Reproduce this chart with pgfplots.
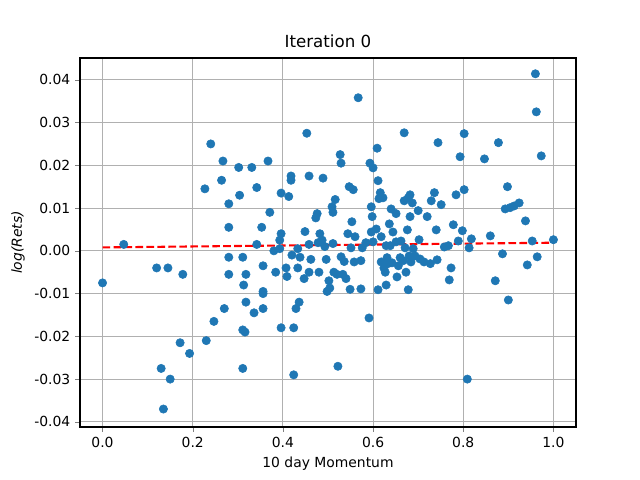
\documentclass[border=0pt]{standalone}
\usepackage{pgfplots}
\pgfplotsset{compat=1.18}
\usepackage{fontspec}
\setmainfont{DejaVu Sans}
\definecolor{mplblue}{HTML}{1F77B4}
\begin{document}
\begin{tikzpicture}[x=0.72pt,y=0.72pt]
\useasboundingbox (0,0) rectangle (640,480);
\begin{axis}[at={(80*0.72pt,53*0.72pt)},anchor=south west,
scale only axis,width=357.1pt,height=265.7pt,
xmin=-0.05,xmax=1.05,ymin=-0.0412,ymax=0.0451,
xtick={0,0.2,0.4,0.6,0.8,1.0},ytick={-0.04,-0.03,-0.02,-0.01,0,0.01,0.02,0.03,0.04},
scaled y ticks=false,
xticklabel style={/pgf/number format/.cd,fixed,fixed zerofill,precision=1,assume math mode=true},
yticklabel style={/pgf/number format/.cd,fixed,fixed zerofill,precision=2,assume math mode=true},
tick label style={font=\fontsize{10}{12}\selectfont},
label style={font=\fontsize{10}{12}\selectfont},
grid=major,grid style={color=black!31,line width=0.8pt},
tick align=outside,tick pos=left,major tick length=3.5pt,
title={Iteration 0},title style={font=\fontsize{12}{14}\selectfont,yshift=-2pt},
xlabel={10 day Momentum},ylabel={\textit{log(Rets)}},
axis line style={line width=0.8pt}]
\addplot[only marks,mark=*,mark size=3pt,mark options={draw=mplblue,fill=mplblue}] table {
x y
0 -0.0075
0.047 0.0015
0.12 -0.004
0.145 -0.004
0.178 -0.0055
0.13 -0.0275
0.135 -0.037
0.15 -0.030
0.172 -0.0215
0.193 -0.024
0.227 0.0145
0.24 0.025
0.23 -0.021
0.247 -0.0165
0.264 0.0165
0.267 0.021
0.27 -0.0135
0.28 0.011
0.28 0.0055
0.28 -0.0015
0.28 -0.0055
0.302 0.0195
0.304 0.013
0.311 -0.0015
0.313 -0.008
0.311 -0.0185
0.316 -0.019
0.311 -0.0275
0.318 -0.0055
0.318 -0.012
0.331 0.0195
0.336 -0.0145
0.342 0.0148
0.342 0.0015
0.353 0.0055
0.356 -0.0035
0.356 -0.0095
0.356 -0.010
0.356 -0.0135
0.367 0.021
0.371 0.009
0.38 0
0.384 -0.005
0.393 0.0025
0.393 0.0005
0.396 0.004
0.396 0.0135
0.396 -0.018
0.407 -0.004
0.409 -0.006
0.413 0.0127
0.418 0.0175
0.418 0.0165
0.42 -0.001
0.424 -0.018
0.424 -0.029
0.429 -0.0135
0.433 0.0005
0.433 -0.004
0.436 -0.012
0.438 -0.0015
0.447 -0.0065
0.449 0.0045
0.453 0.0275
0.458 0.0175
0.458 0.0015
0.458 -0.005
0.462 -0.002
0.473 0.0077
0.476 0.0087
0.478 0.0019
0.48 -0.005
0.482 0.004
0.487 0.0025
0.489 0.017
0.493 0.001
0.496 -0.002
0.498 -0.0095
0.504 -0.0087
0.502 -0.007
0.509 0.0103
0.511 0.009
0.511 0.0017
0.513 -0.005
0.516 0.012
0.52 -0.0055
0.522 -0.027
0.527 0.0225
0.529 0.0205
0.529 -0.0014
0.533 -0.0055
0.536 -0.0025
0.54 -0.0065
0.544 0.004
0.547 0.015
0.549 -0.009
0.551 0.0007
0.553 0.0068
0.556 0.0143
0.558 -0.0026
0.56 0.0033
0.567 0.0358
0.573 -0.0023
0.573 -0.0089
0.576 0.0007
0.584 0.0019
0.591 -0.0157
0.593 0.0205
0.596 0.0103
0.596 0.0044
0.598 0.008
0.6 0.0021
0.6 0.0194
0.607 0.0051
0.609 0.024
0.611 -0.0091
0.611 0.0164
0.613 0.0122
0.616 0.0136
0.618 0.0033
0.618 -0.0026
0.622 0.0124
0.624 -0.004
0.627 -0.005
0.629 0.0012
0.629 -0.008
0.631 -0.0016
0.633 -0.003
0.636 0.0063
0.638 0.0012
0.64 0.0098
0.642 -0.0028
0.644 0.0044
0.651 0.0087
0.651 0.0021
0.653 -0.0061
0.656 -0.0035
0.66 -0.0016
0.662 0.0023
0.667 -0.0023
0.669 0.0276
0.669 0.0117
0.671 0.0007
0.673 -0.005
0.676 0.0049
0.678 -0.0091
0.678 0.0124
0.68 -0.0012
0.682 0.008
0.682 0.0131
0.684 -0.0026
0.687 0.0112
0.689 0.0005
0.693 -0.0012
0.7 0.0094
0.702 0.0026
0.704 -0.0019
0.713 -0.0026
0.72 0.008
0.727 -0.003
0.729 0.0117
0.736 0.0136
0.74 0.0049
0.742 -0.0021
0.744 0.0253
0.751 0.0108
0.758 0.0009
0.767 0.0012
0.769 -0.0068
0.773 -0.004
0.778 0.0061
0.784 0.0131
0.789 0.0023
0.793 0.022
0.798 0.0047
0.802 0.0143
0.802 0.0274
0.809 -0.030
0.813 0.0007
0.818 0.0028
0.847 0.0215
0.86 0.0035
0.871 -0.007
0.878 0.0253
0.887 -0.0007
0.893 0.0098
0.898 0.015
0.9 -0.0115
0.904 0.0101
0.913 0.0105
0.924 0.0112
0.938 0.007
0.942 -0.0033
0.953 0.0023
0.96 0.0414
0.962 0.0325
0.964 -0.0014
0.973 0.0222
1.0 0.0026
};
\addplot[red,dashed,line width=1.5pt,dash pattern=on 5.5pt off 2.4pt] coordinates {(0,0.0008) (1,0.0019)};
\end{axis}
\end{tikzpicture}
\end{document}
